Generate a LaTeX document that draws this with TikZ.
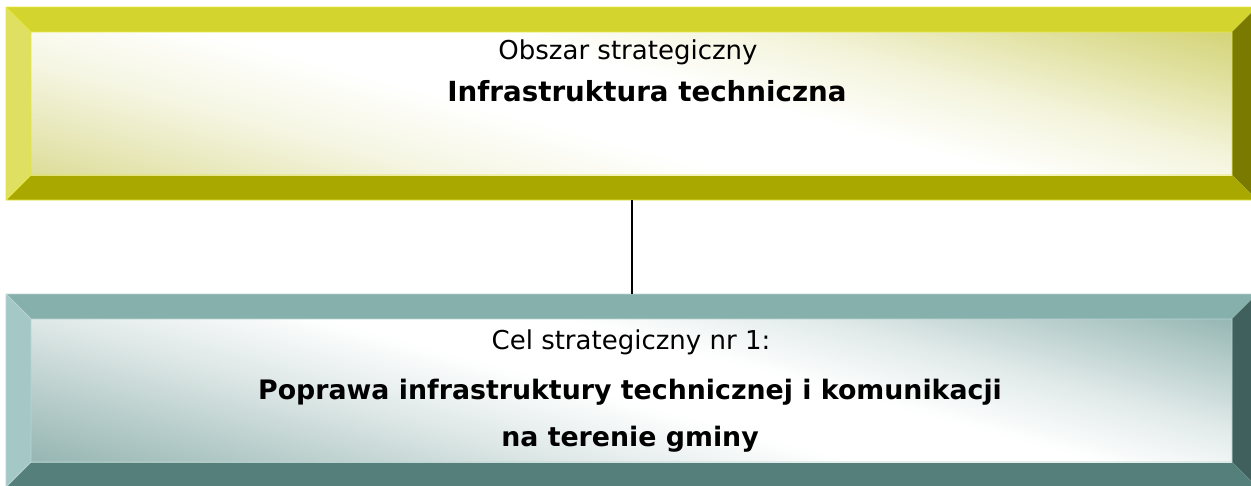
\documentclass[tikz,border=0pt]{standalone}
\usepackage{fontspec}
\setmainfont{DejaVu Sans}
\usetikzlibrary{calc}
\definecolor{ytop}{HTML}{D4D42E}
\definecolor{yleft}{HTML}{DFDF62}
\definecolor{ybot}{HTML}{A8A800}
\definecolor{yright}{HTML}{7A7A00}
\definecolor{yhi}{HTML}{CBCB5C}
\definecolor{ylo}{HTML}{D4D480}
\definecolor{yedge}{HTML}{E6E640}
\definecolor{ttop}{HTML}{86B0AC}
\definecolor{tleft}{HTML}{A4C8C5}
\definecolor{tbot}{HTML}{557F7B}
\definecolor{tright}{HTML}{3F605C}
\definecolor{thi}{HTML}{7CA5A1}
\definecolor{tlo}{HTML}{84A9A5}
\definecolor{tedge}{HTML}{B8D4D1}
\colorlet{ylo1}{ylo!60!white}\colorlet{ylo2}{ylo!22!white}
\colorlet{yhi1}{yhi!60!white}\colorlet{yhi2}{yhi!22!white}
\colorlet{tlo1}{tlo!62!white}\colorlet{tlo2}{tlo!26!white}
\colorlet{thi1}{thi!60!white}\colorlet{thi2}{thi!22!white}
\pgfdeclareverticalshading{yshade}{100bp}{color(0bp)=(ylo); color(25bp)=(ylo); color(32bp)=(ylo1); color(39bp)=(ylo2); color(46bp)=(white); color(53bp)=(white); color(60bp)=(yhi2); color(67bp)=(yhi1); color(75bp)=(yhi); color(100bp)=(yhi)}
\pgfdeclareverticalshading{tshade}{100bp}{color(0bp)=(tlo); color(25bp)=(tlo); color(34bp)=(tlo1); color(42bp)=(tlo2); color(49bp)=(white); color(55bp)=(white); color(61bp)=(thi2); color(68bp)=(thi1); color(75bp)=(thi); color(100bp)=(thi)}
\tikzset{
  boxframe/.style={minimum width=1251pt, minimum height=193pt, inner sep=0pt, outer sep=0pt},
  lbl/.style={anchor=base, inner sep=0pt, font=\fontsize{26}{30}\selectfont},
  blbl/.style={anchor=base, inner sep=0pt, font=\fontsize{27.7}{30}\selectfont\bfseries},
  bblbl/.style={anchor=base, inner sep=0pt, font=\fontsize{26.8}{30}\selectfont\bfseries},
  conn/.style={draw=black, line width=2pt}
}
\newcommand\bevelbox[8]{%
  % #1 node name, #2 top, #3 right, #4 bottom, #5 left, #6 shading, #7 edge, #8 angle
  \path (#1.north west) coordinate (#1a1) (#1.north east) coordinate (#1a2)
        (#1.south east) coordinate (#1a3) (#1.south west) coordinate (#1a4);
  \path ($(#1a1)+(25,25)$) coordinate (#1b1) ($(#1a2)+(-25,25)$) coordinate (#1b2)
        ($(#1a3)+(-25,-25)$) coordinate (#1b3) ($(#1a4)+(25,-25)$) coordinate (#1b4);
  \path ($(#1b1)!0.5!(#1b3)$) coordinate (#1c);
  \fill[#2] (#1a1) -- (#1a2) -- (#1b2) -- (#1b1) -- cycle;
  \fill[#3] (#1a2) -- (#1a3) -- (#1b3) -- (#1b2) -- cycle;
  \fill[#4] (#1a3) -- (#1a4) -- (#1b4) -- (#1b3) -- cycle;
  \fill[#5] (#1a4) -- (#1a1) -- (#1b1) -- (#1b4) -- cycle;
  \begin{scope}
    \clip (#1b1) rectangle (#1b3);
    \begin{scope}[transform canvas={shift={(#1c)}, rotate=#8}]
      \shade[shading=#6] (-700,-260) rectangle (700,260);
    \end{scope}
  \end{scope}
  \draw[#7, line width=0.8pt] (#1a1) -- (#1b1) (#1a4) -- (#1b4)
        (#1b1) rectangle (#1b3) (#1a1) -- (#1a2) (#1a1) -- (#1a4) (#1a4) -- (#1a3);
}
\begin{document}
\begin{tikzpicture}[x=1pt,y=-1pt]
\useasboundingbox (0,0) rectangle (1251,485);
\fill[white] (0,0) rectangle (1251,485);
\node[boxframe] (top) at (631.5,103.5) {};
\node[boxframe] (bot) at (631.5,390.5) {};
\bevelbox{top}{ytop}{yright}{ybot}{yleft}{yshade}{yedge}{-15}
\bevelbox{bot}{ttop}{tright}{tbot}{tleft}{tshade}{tedge}{-15}
\draw[conn] (top.south) -- (bot.north);
\node[lbl]   (t1) at (628,59)  {Obszar strategiczny};
\node[blbl]  (t2) at (647,101) {Infrastruktura techniczna};
\node[lbl]   (b1) at (631,349) {Cel strategiczny nr 1:};
\node[bblbl] (b2) at (630,399) {Poprawa infrastruktury technicznej i komunikacji};
\node[bblbl] (b3) at (630,446) {na terenie gminy};
\end{tikzpicture}
\end{document}
